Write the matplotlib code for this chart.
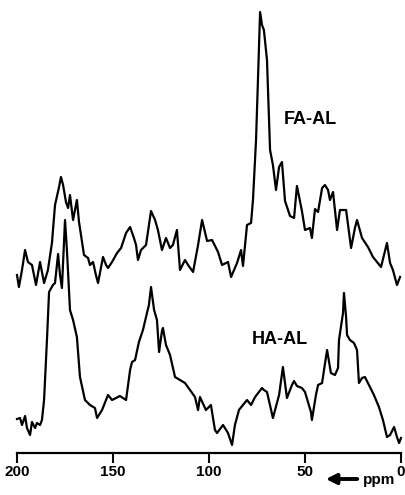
import matplotlib
matplotlib.use('Agg')
import matplotlib.pyplot as plt

### Data (ppm, intensity above baseline)
fa_ppm = [200.0, 199.0, 197.4, 195.8, 194.3, 192.2, 190.1, 188.0, 185.9, 183.9,
          181.8, 180.2, 178.1, 177.1, 176.0, 174.5, 173.4, 172.4, 170.8, 168.8,
          167.7, 165.1, 163.0, 162.0, 160.4, 158.9, 157.8, 155.2, 153.6, 152.6,
          150.5, 147.9, 145.8, 143.2, 141.1, 139.1, 138.0, 137.0, 135.4, 132.8,
          130.2, 128.1, 126.6, 124.5, 122.4, 120.3, 118.8, 116.7, 115.1, 112.5,
          110.9, 108.3, 105.7, 103.6, 101.0, 98.4, 95.3, 93.2, 90.1, 88.5,
          85.4, 83.3, 82.3, 80.2, 78.1, 77.1, 75.5, 74.5, 73.4, 72.4,
          71.4, 69.8, 68.2, 66.7, 65.1, 63.5, 62.0, 60.4, 57.8, 55.7,
          54.2, 51.6, 50.0, 47.4, 46.4, 44.8, 43.2, 41.1, 39.6, 38.0,
          37.0, 35.4, 33.3, 31.8, 28.6, 26.0, 24.0, 22.9, 20.3, 17.2,
          14.6, 12.5, 10.4, 7.3, 5.7, 4.2, 2.1, 0.5]
fa_int = [178, 166, 183, 203, 191, 188, 168, 191, 170, 183,
          210, 248, 266, 276, 268, 251, 245, 258, 233, 253,
          231, 198, 195, 188, 191, 178, 170, 196, 188, 185,
          191, 200, 205, 220, 226, 215, 208, 193, 203, 208,
          242, 233, 223, 203, 215, 205, 208, 223, 183, 193,
          188, 181, 208, 233, 212, 213, 201, 188, 191, 176,
          190, 203, 187, 228, 230, 253, 313, 373, 441, 428,
          423, 393, 303, 288, 263, 286, 291, 252, 237, 235,
          267, 242, 223, 225, 215, 244, 241, 265, 268, 263,
          253, 261, 223, 243, 243, 205, 225, 233, 215, 206,
          196, 191, 186, 210, 190, 183, 168, 176]

ha_ppm = [200.0, 198.4, 197.4, 195.8, 194.8, 193.2, 192.2, 190.6, 189.6, 188.0,
          187.0, 185.9, 184.4, 183.3, 181.3, 180.2, 178.6, 177.6, 176.6, 175.0,
          174.0, 172.4, 170.8, 168.8, 167.2, 164.6, 162.0, 159.4, 158.3, 155.7,
          152.6, 150.5, 148.4, 146.4, 143.2, 141.1, 140.1, 138.5, 136.5, 134.4,
          132.8, 131.3, 130.2, 128.6, 127.1, 126.0, 124.5, 124.0, 122.4, 120.3,
          117.7, 115.1, 112.5, 109.9, 107.3, 105.7, 104.7, 101.6, 99.0, 96.9,
          95.8, 92.7, 90.1, 88.0, 86.5, 84.4, 82.3, 80.2, 78.1, 76.0,
          74.0, 72.4, 71.4, 69.8, 66.7, 63.5, 61.5, 59.4, 56.8, 55.7,
          54.2, 51.6, 50.0, 46.9, 46.4, 44.3, 43.2, 41.1, 40.1, 38.5,
          36.5, 34.4, 32.8, 32.3, 30.2, 29.7, 28.6, 28.1, 26.6, 24.5,
          22.9, 21.9, 20.3, 18.8, 16.7, 14.1, 11.5, 9.4, 7.3, 5.7,
          3.6, 2.1, 1.0, 0.0]
ha_int = [34, 35, 28, 37, 25, 18, 31, 25, 30, 28,
          33, 53, 113, 161, 168, 170, 199, 178, 165, 233,
          203, 143, 133, 116, 76, 53, 48, 45, 35, 43,
          58, 53, 55, 57, 53, 83, 91, 93, 111, 123,
          136, 148, 166, 143, 133, 101, 122, 125, 108, 98,
          76, 73, 70, 63, 56, 43, 56, 43, 48, 23,
          20, 28, 20, 8, 28, 43, 48, 53, 48, 56,
          61, 65, 63, 61, 35, 58, 86, 55, 68, 72,
          67, 65, 61, 41, 33, 58, 68, 70, 83, 103,
          80, 78, 85, 113, 140, 160, 136, 118, 113, 110,
          103, 70, 75, 76, 68, 58, 46, 33, 16, 18,
          26, 16, 10, 15]

ticks = [200, 150, 100, 50, 0]

### Figure
W, H = 406, 495
fig = plt.figure(figsize=(W / 100, H / 100), dpi=100)
ax = fig.add_axes([17 / W, 42 / H, 384 / W, 453 / H])

ax.plot(fa_ppm, fa_int, color='k', linewidth=1.6, clip_on=False)
ax.plot(ha_ppm, ha_int, color='k', linewidth=1.6, clip_on=False)

ax.set_xlim(200, 0)      # ppm runs right to left
ax.set_ylim(0, 453)

for s in ['left', 'right', 'top']:
    ax.spines[s].set_visible(False)
ax.spines['bottom'].set_linewidth(1.6)
ax.set_yticks([])
ax.set_xticks(ticks)
ax.set_xticklabels([str(t) for t in ticks], fontsize=11, fontweight='bold',
                   family='Liberation Sans')
ax.tick_params(axis='x', direction='out', length=7, width=1.5, pad=2)

# curve labels
ax.text(47.4, 333, 'FA-AL', ha='center', va='center', fontsize=13,
        fontweight='bold', family='Liberation Sans')
ax.text(63.0, 114, 'HA-AL', ha='center', va='center', fontsize=13,
        fontweight='bold', family='Liberation Sans')

# ppm with arrow under the axis
fig.text(379 / W, 15 / H, 'ppm', ha='center', va='center', fontsize=11,
         fontweight='bold', family='Liberation Sans')
ax.annotate('', xy=(323 / W, 16 / H), xytext=(360 / W, 16 / H),
            xycoords='figure fraction', textcoords='figure fraction',
            arrowprops=dict(arrowstyle='-|>', color='k', lw=2.8, mutation_scale=15))

plt.savefig('out.png', dpi=100)
